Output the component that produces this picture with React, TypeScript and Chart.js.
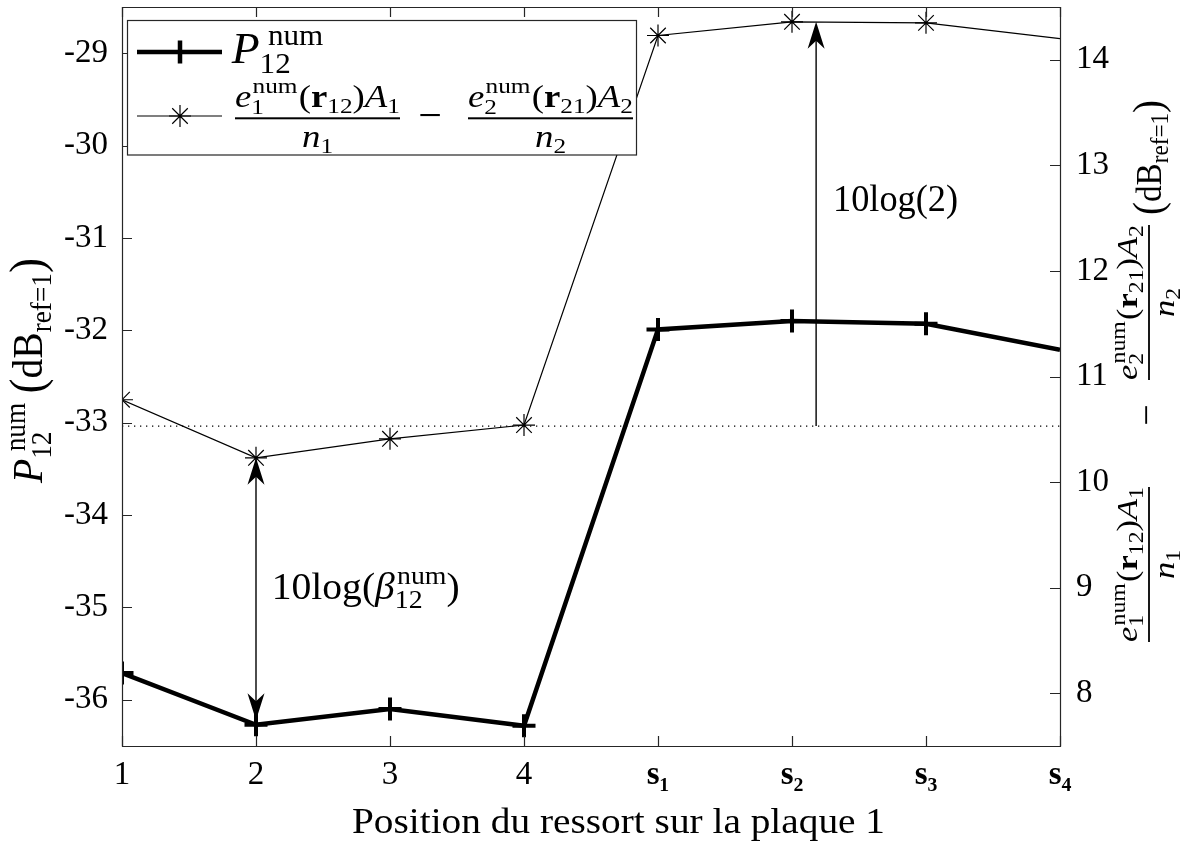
import React, { useEffect, useRef } from 'react';
import { Chart, registerables } from 'chart.js';

Chart.register(...registerables);

const W = 1186;
const H = 847;

// ---------- data ----------
const categories = ['1', '2', '3', '4', 's₁', 's₂', 's₃', 's₄'];
const p12Num = [-35.71, -36.27, -36.1, -36.28, -31.99, -31.9, -31.93, -32.21];
const diffNum = [10.78, 10.23, 10.41, 10.54, 14.23, 14.36, 14.35, 14.2];
const refLevel = 10.53;
const leftTicks = [-36, -35, -34, -33, -32, -31, -30, -29];
const rightTicks = [8, 9, 10, 11, 12, 13, 14];
const leftRange = [-36.5, -28.5];
const rightRange = [7.5, 14.5];

// annotations (data units)
const betaArrow = { x: 1, topR: 10.23, bottomL: -36.22 };
const twoArrow = { x: 5.18, baseR: refLevel, tipR: 14.36 };
const betaLabel = { x: 1.117, yL: -34.91 };
const twoLabel = { x: 5.306, yR: 12.57 };

// ---------- text helpers ----------
const FAM = '"Liberation Serif", "DejaVu Serif", serif';
const TXT = '#000';
const AXIS = '#262626';

type Seg = { t: string; s: number; it?: boolean; b?: boolean; dy?: number; dx?: number };
type Stack = { sup: Seg; sub: Seg; supDx?: number; dx?: number };
type Item = Seg | Stack;

function fontOf(g: Seg) {
  return `${g.it ? 'italic ' : ''}${g.b ? 'bold ' : ''}${g.s}px ${FAM}`;
}
function segW(ctx: CanvasRenderingContext2D, g: Seg) {
  ctx.font = fontOf(g);
  return ctx.measureText(g.t).width;
}
function itemW(ctx: CanvasRenderingContext2D, it: Item) {
  if ('sup' in it) {
    return (it.dx || 0) + Math.max(segW(ctx, it.sup) + (it.supDx || 0), segW(ctx, it.sub));
  }
  return (it.dx || 0) + segW(ctx, it);
}
function itemsW(ctx: CanvasRenderingContext2D, items: Item[]) {
  return items.reduce((a, it) => a + itemW(ctx, it), 0);
}
function drawItems(ctx: CanvasRenderingContext2D, items: Item[], x: number, y: number, sx: number) {
  ctx.save();
  ctx.translate(x, y);
  ctx.scale(sx, 1);
  ctx.textBaseline = 'alphabetic';
  ctx.textAlign = 'left';
  ctx.fillStyle = TXT;
  let cx = 0;
  for (const it of items) {
    if ('sup' in it) {
      cx += it.dx || 0;
      ctx.font = fontOf(it.sup);
      ctx.fillText(it.sup.t, cx + (it.supDx || 0), it.sup.dy || 0);
      ctx.font = fontOf(it.sub);
      ctx.fillText(it.sub.t, cx, it.sub.dy || 0);
      cx += itemW(ctx, it) - (it.dx || 0);
    } else {
      cx += it.dx || 0;
      ctx.font = fontOf(it);
      ctx.fillText(it.t, cx, it.dy || 0);
      cx += segW(ctx, it);
    }
  }
  ctx.restore();
}
function drawFit(ctx: CanvasRenderingContext2D, items: Item[], x: number, y: number, targetW: number) {
  const w = itemsW(ctx, items);
  const sx = targetW / w;
  drawItems(ctx, items, x, y, sx);
  return sx;
}
function drawFrac(
  ctx: CanvasRenderingContext2D,
  num: Item[],
  den: Item[],
  x0: number,
  x1: number,
  barY: number,
  nb: number,
  db: number,
  lw: number
) {
  const sx = (x1 - x0) / itemsW(ctx, num);
  drawItems(ctx, num, x0, barY - nb, sx);
  const dw = itemsW(ctx, den) * sx;
  drawItems(ctx, den, (x0 + x1) / 2 - dw / 2, barY + db, sx);
  ctx.fillStyle = TXT;
  ctx.fillRect(x0, barY - lw / 2, x1 - x0, lw);
}

function numer(idx: string, r: string, ms: number, ss: number): Item[] {
  return [
    { t: 'e', s: ms, it: true },
    { sup: { t: 'num', s: ss, dy: -0.42 * ms }, sub: { t: idx, s: ss, dy: 0.22 * ms }, supDx: 1 },
    { t: '(', s: ms, dx: 1 },
    { t: 'r', s: ms, b: true },
    { t: r, s: ss, dy: 0.2 * ms },
    { t: ')', s: ms },
    { t: 'A', s: ms, it: true },
    { t: idx, s: ss, dy: 0.2 * ms },
  ];
}
function denom(idx: string, ms: number, ss: number): Item[] {
  return [
    { t: 'n', s: ms, it: true },
    { t: idx, s: ss, dy: 0.2 * ms },
  ];
}

function arrowHead(ctx: CanvasRenderingContext2D, tx: number, ty: number, dx: number, dy: number) {
  const L = 27;
  const Wd = 17;
  const notch = 19;
  const px = -dy;
  const py = dx;
  const bx = tx - dx * L;
  const by = ty - dy * L;
  const nx = tx - dx * notch;
  const ny = ty - dy * notch;
  ctx.beginPath();
  ctx.moveTo(tx, ty);
  ctx.lineTo(bx + (px * Wd) / 2, by + (py * Wd) / 2);
  ctx.lineTo(nx, ny);
  ctx.lineTo(bx - (px * Wd) / 2, by - (py * Wd) / 2);
  ctx.closePath();
  ctx.fill();
}

function drawStar(ctx: CanvasRenderingContext2D, x: number, y: number, r: number) {
  ctx.beginPath();
  for (let k = 0; k < 4; k++) {
    const a = (k * Math.PI) / 4;
    ctx.moveTo(x - Math.cos(a) * r, y - Math.sin(a) * r);
    ctx.lineTo(x + Math.cos(a) * r, y + Math.sin(a) * r);
  }
  ctx.stroke();
}

const overlay = {
  id: 'overlay',
  afterDraw(chart: any) {
    const ctx: CanvasRenderingContext2D = chart.ctx;
    const { left, right, top, bottom } = chart.chartArea;
    const xs = chart.scales.x;
    const yL = chart.scales.y;
    const yR = chart.scales.y2;
    ctx.save();

    // axes box + inward ticks
    ctx.strokeStyle = AXIS;
    ctx.lineWidth = 1.2;
    ctx.beginPath();
    ctx.rect(left + 0.5, top + 0.5, right - left, bottom - top);
    ctx.stroke();
    ctx.beginPath();
    categories.forEach((_, i) => {
      const x = Math.round(xs.getPixelForValue(i)) + 0.5;
      ctx.moveTo(x, bottom);
      ctx.lineTo(x, bottom - 10);
      ctx.moveTo(x, top);
      ctx.lineTo(x, top + 10);
    });
    leftTicks.forEach((v) => {
      const y = Math.round(yL.getPixelForValue(v)) + 0.5;
      ctx.moveTo(left, y);
      ctx.lineTo(left + 10, y);
    });
    rightTicks.forEach((v) => {
      const y = Math.round(yR.getPixelForValue(v)) + 0.5;
      ctx.moveTo(right, y);
      ctx.lineTo(right - 10, y);
    });
    ctx.stroke();

    // arrows
    ctx.strokeStyle = '#000';
    ctx.fillStyle = '#000';
    ctx.lineWidth = 1.4;
    {
      const x = xs.getPixelForValue(betaArrow.x);
      const y1 = yR.getPixelForValue(betaArrow.topR);
      const y2 = yL.getPixelForValue(betaArrow.bottomL);
      ctx.beginPath();
      ctx.moveTo(x, y1 + 15);
      ctx.lineTo(x, y2 - 15);
      ctx.stroke();
      arrowHead(ctx, x, y1, 0, -1);
      arrowHead(ctx, x, y2, 0, 1);
    }
    {
      const x = xs.getPixelForValue(twoArrow.x);
      const y1 = yR.getPixelForValue(twoArrow.baseR);
      const y2 = yR.getPixelForValue(twoArrow.tipR);
      ctx.beginPath();
      ctx.moveTo(x, y1);
      ctx.lineTo(x, y2 + 15);
      ctx.stroke();
      arrowHead(ctx, x, y2, 0, -1);
    }

    // annotation texts
    drawFit(
      ctx,
      [{ t: '10log(2)', s: 37 }],
      xs.getPixelForValue(twoLabel.x),
      yR.getPixelForValue(twoLabel.yR),
      125
    );
    drawFit(
      ctx,
      [
        { t: '10log(', s: 37 },
        { t: 'β', s: 37, it: true },
        { sup: { t: 'num', s: 26, dy: -15 }, sub: { t: '12', s: 26, dy: 9 }, supDx: 2 },
        { t: ')', s: 37 },
      ],
      xs.getPixelForValue(betaLabel.x),
      yL.getPixelForValue(betaLabel.yL),
      188
    );

    // legend
    ctx.fillStyle = '#fff';
    ctx.fillRect(127.5, 20.5, 509, 134.5);
    ctx.strokeStyle = AXIS;
    ctx.lineWidth = 1.2;
    ctx.strokeRect(127.5, 20.5, 509, 134.5);
    ctx.strokeStyle = '#000';
    ctx.lineWidth = 4.5;
    ctx.beginPath();
    ctx.moveTo(137, 52);
    ctx.lineTo(222, 52);
    ctx.moveTo(180, 40.5);
    ctx.lineTo(180, 63.5);
    ctx.stroke();
    drawFit(
      ctx,
      [
        { t: 'P', s: 44, it: true },
        { sup: { t: 'num', s: 30, dy: -18 }, sub: { t: '12', s: 30, dy: 10 }, supDx: 8 },
      ],
      231.7,
      63,
      91.5
    );
    ctx.strokeStyle = '#000';
    ctx.lineWidth = 1.2;
    ctx.beginPath();
    ctx.moveTo(137, 116);
    ctx.lineTo(222, 116);
    ctx.stroke();
    drawStar(ctx, 180, 116, 11);
    drawFrac(ctx, numer('1', '12', 32, 22), denom('1', 32, 22), 235, 400, 118.3, 11.6, 28.4, 2);
    ctx.fillStyle = TXT;
    ctx.font = `42px ${FAM}`;
    ctx.textAlign = 'center';
    ctx.textBaseline = 'alphabetic';
    ctx.fillText('−', 430, 118.3 + 10.5);
    drawFrac(ctx, numer('2', '21', 32, 22), denom('2', 32, 22), 468, 633, 118.3, 11.6, 28.4, 2);

    // x axis title
    drawFit(ctx, [{ t: 'Position du ressort sur la plaque 1', s: 35 }], 352, 833, 533);

    // left axis title
    ctx.save();
    ctx.translate(42, 483);
    ctx.rotate(-Math.PI / 2);
    drawFit(
      ctx,
      [
        { t: 'P', s: 42, it: true },
        { sup: { t: 'num', s: 29, dy: -17 }, sub: { t: '12', s: 29, dy: 9 }, supDx: 8 },
        { t: '(', s: 48, dx: 10, dy: 1 },
        { t: 'dB', s: 42 },
        { t: 'ref=1', s: 29, dy: 9 },
        { t: ')', s: 48, dy: 1 },
      ],
      0,
      0,
      225
    );
    ctx.restore();

    // right axis title
    ctx.save();
    ctx.translate(1149, 650);
    ctx.rotate(-Math.PI / 2);
    drawFrac(ctx, numer('1', '12', 29, 20), denom('1', 29, 20), 8, 163, 0, 12, 25, 1.8);
    ctx.fillStyle = TXT;
    ctx.font = `38px ${FAM}`;
    ctx.textAlign = 'center';
    ctx.fillText('−', 235, 9.5);
    drawFrac(ctx, numer('2', '21', 29, 20), denom('2', 29, 20), 270, 425, 0, 12, 25, 1.8);
    drawFit(
      ctx,
      [
        { t: '(', s: 42, dy: 1 },
        { t: 'dB', s: 36 },
        { t: 'ref=1', s: 25, dy: 7 },
        { t: ')', s: 42, dy: 1 },
      ],
      435,
      12,
      115
    );
    ctx.restore();

    ctx.restore();
  },
};

function noPad(s: any) {
  s.paddingTop = 0;
  s.paddingBottom = 0;
  s.paddingLeft = 0;
  s.paddingRight = 0;
}

export default function App() {
  const ref = useRef<HTMLCanvasElement>(null);
  useEffect(() => {
    const canvas = ref.current;
    if (!canvas) return;
    const tickFont = { family: FAM, size: 33 };
    const chart = new Chart(canvas, {
      type: 'line',
      data: {
        labels: categories,
        datasets: [
          {
            label: 'P12num',
            data: p12Num,
            yAxisID: 'y',
            borderColor: '#000',
            borderWidth: 4.5,
            pointStyle: 'cross',
            pointRadius: (c: any) => (c.dataIndex === categories.length - 1 ? 0 : 11.5),
            pointBorderWidth: 4,
            pointBorderColor: '#000',
            pointBackgroundColor: '#000',
            tension: 0,
            clip: 0,
          },
          {
            label: 'diff',
            data: diffNum,
            yAxisID: 'y2',
            borderColor: '#000',
            borderWidth: 1.2,
            pointStyle: 'star',
            pointRadius: (c: any) => (c.dataIndex === categories.length - 1 ? 0 : 11),
            pointBorderWidth: 1.2,
            pointBorderColor: '#000',
            pointBackgroundColor: '#000',
            tension: 0,
            clip: 0,
          },
          {
            label: 'ref',
            data: categories.map(() => refLevel),
            yAxisID: 'y2',
            borderColor: '#000',
            borderWidth: 1.3,
            borderDash: [1.3, 4.7],
            pointRadius: 0,
            tension: 0,
            clip: 0,
          },
        ],
      } as any,
      options: {
        responsive: false,
        devicePixelRatio: 1,
        animation: false,
        events: [],
        layout: { autoPadding: false, padding: { top: 7, left: 0, right: 0, bottom: 0 } },
        plugins: { legend: { display: false }, tooltip: { enabled: false } },
        scales: {
          x: {
            type: 'category',
            offset: false,
            grid: { display: false, drawTicks: false },
            border: { display: false },
            ticks: {
              autoSkip: false,
              maxRotation: 0,
              padding: 10,
              color: TXT,
              font: (c: any) => ({ ...tickFont, weight: c.index >= 4 ? 'bold' : 'normal' }),
            },
            afterFit: (s: any) => {
              s.height = H - 746;
              noPad(s);
            },
          },
          y: {
            type: 'linear',
            position: 'left',
            min: leftRange[0],
            max: leftRange[1],
            grid: { display: false, drawTicks: false },
            border: { display: false },
            ticks: { padding: 14, color: TXT, font: tickFont },
            afterBuildTicks: (s: any) => {
              s.ticks = leftTicks.map((v) => ({ value: v }));
            },
            afterFit: (s: any) => {
              s.width = 122;
              noPad(s);
            },
          },
          y2: {
            type: 'linear',
            position: 'right',
            min: rightRange[0],
            max: rightRange[1],
            grid: { display: false, drawTicks: false },
            border: { display: false },
            ticks: { padding: 16, color: TXT, font: tickFont },
            afterBuildTicks: (s: any) => {
              s.ticks = rightTicks.map((v) => ({ value: v }));
            },
            afterFit: (s: any) => {
              s.width = W - 1060;
              noPad(s);
            },
          },
        },
      } as any,
      plugins: [overlay],
    });
    return () => chart.destroy();
  }, []);
  return (
    <div style={{ position: 'absolute', left: 0, top: 0, width: W, height: H, background: '#fff' }}>
      <canvas ref={ref} width={W} height={H} style={{ display: 'block', width: W, height: H }} />
    </div>
  );
}
